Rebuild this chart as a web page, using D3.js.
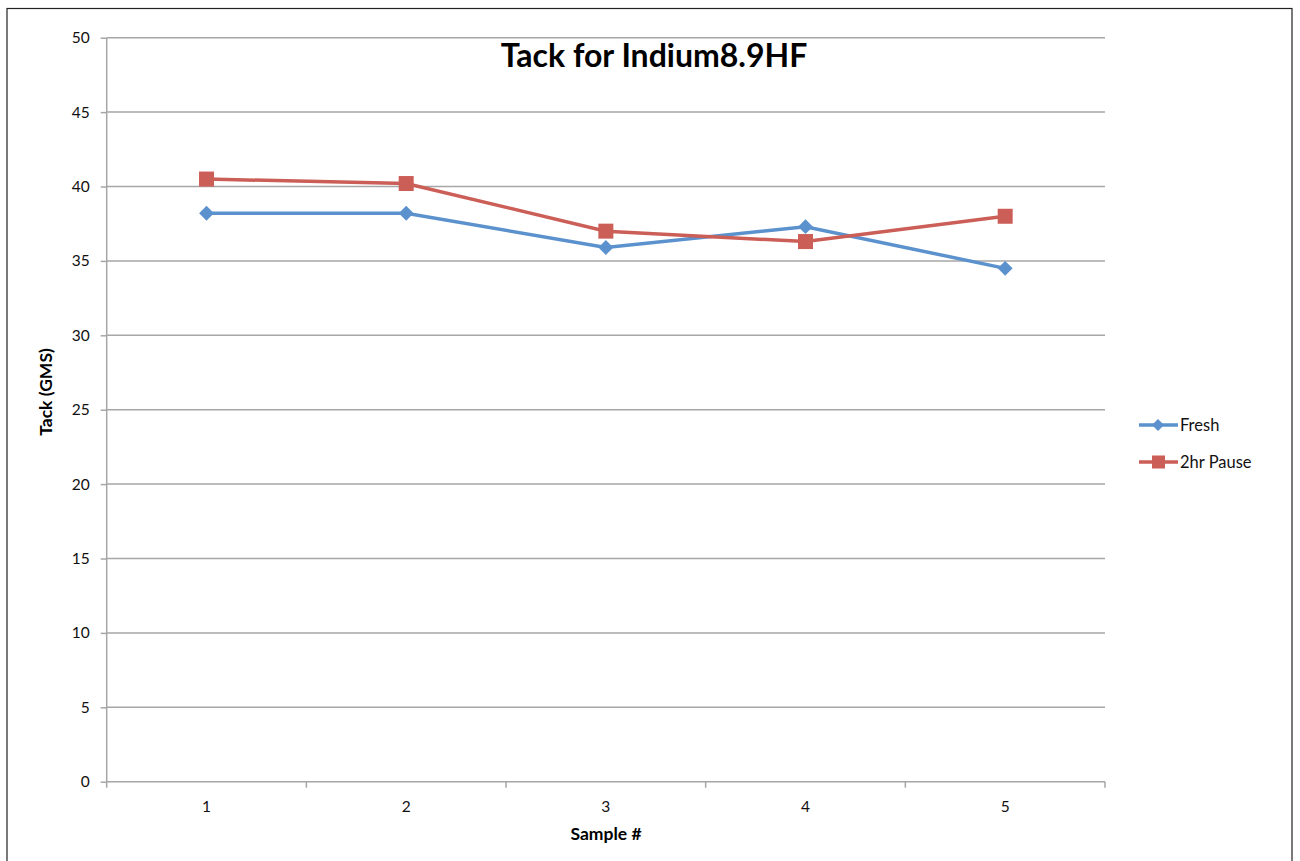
<!DOCTYPE html>
<html><head><meta charset="utf-8">
<script src="https://cdn.jsdelivr.net/npm/d3@7"></script>
<style>body{margin:0;background:#fff}svg{display:block}text{font-family:Lato,"Open Sans",sans-serif}</style>
</head><body><svg id="c" width="1300" height="861"></svg>
<script>
const categories = ["1","2","3","4","5"];
const fresh = [38.2, 38.2, 35.9, 37.3, 34.5];
const pause = [40.5, 40.2, 37.0, 36.3, 38.0];
const seriesNames = ["Fresh", "2hr Pause"];
const yTicks = [0,5,10,15,20,25,30,35,40,45,50];

const svg = d3.select("#c");
const blue = "#5b91cd", red = "#cc5e58", grid = "#a6a6a6";
svg.append("rect").attr("x",7).attr("y",8.5).attr("width",1285).attr("height",870)
  .attr("fill","none").attr("stroke","#222").attr("stroke-width",1.2);

const L=106.7, R=1105, T=37.7, B=781.7;
const x = d3.scaleBand().domain(categories).range([L,R]);
const y = d3.scaleLinear().domain([0,50]).range([B,T]);

// gridlines
svg.append("g").selectAll("line").data(yTicks.filter(d=>d>0)).join("line")
  .attr("x1",L).attr("x2",R).attr("y1",d=>y(d)).attr("y2",d=>y(d))
  .attr("stroke",grid).attr("stroke-width",1.5);

const ya = svg.append("g").attr("transform",`translate(${L},0)`)
  .call(d3.axisLeft(y).tickValues(yTicks).tickSize(6).tickPadding(11));
ya.select(".domain").attr("stroke",grid).attr("stroke-width",1.5).attr("d",`M0,${B}V${T}`);
ya.selectAll(".tick line").attr("stroke",grid).attr("stroke-width",1.5);
ya.selectAll(".tick text").attr("font-size",15.5).attr("fill","#111").attr("font-family","Lato,sans-serif");

const xa = svg.append("g").attr("transform",`translate(0,${B})`)
  .call(d3.axisBottom(x).tickSize(0).tickPadding(19));
xa.select(".domain").attr("stroke",grid).attr("stroke-width",1.5).attr("d",`M${L},0H${R}`);
xa.selectAll(".tick text").attr("font-size",15.5).attr("fill","#111").attr("font-family","Lato,sans-serif");
// band boundary ticks
const bounds = categories.map(c=>x(c)).concat([R]);
svg.append("g").selectAll("line").data(bounds).join("line")
  .attr("x1",d=>d).attr("x2",d=>d).attr("y1",B).attr("y2",B+6)
  .attr("stroke",grid).attr("stroke-width",1.5);

const cx = c => x(c)+x.bandwidth()/2;
const line = d3.line().x((d,i)=>cx(categories[i])).y(d=>y(d));
svg.append("path").datum(fresh).attr("d",line).attr("fill","none").attr("stroke",blue).attr("stroke-width",3.5);
svg.append("path").datum(pause).attr("d",line).attr("fill","none").attr("stroke",red).attr("stroke-width",3.5);

const diamond = d3.symbol().type(d3.symbolSquare).size(110);
svg.append("g").selectAll("path").data(fresh).join("path")
  .attr("d",diamond()).attr("fill",blue)
  .attr("transform",(d,i)=>`translate(${cx(categories[i])},${y(d)}) rotate(45)`);
svg.append("g").selectAll("rect").data(pause).join("rect")
  .attr("x",(d,i)=>cx(categories[i])-7.5).attr("y",d=>y(d)-7.5)
  .attr("width",15).attr("height",15).attr("fill",red);

svg.append("text").attr("x",654).attr("y",67).attr("text-anchor","middle")
  .attr("font-size",32).attr("font-weight","bold").attr("fill","#000").text("Tack for Indium8.9HF");
svg.append("text").attr("transform","translate(52,392) rotate(-90)").attr("text-anchor","middle")
  .attr("font-size",17.5).attr("font-weight","bold").attr("fill","#000").text("Tack (GMS)");
svg.append("text").attr("x",606).attr("y",840).attr("text-anchor","middle")
  .attr("font-size",17.5).attr("font-weight","bold").attr("fill","#000").text("Sample #");

// legend
const lg = svg.append("g");
const ly = [425, 462];
[blue, red].forEach((col,i)=>{
  lg.append("line").attr("x1",1139).attr("x2",1178).attr("y1",ly[i]).attr("y2",ly[i]).attr("stroke",col).attr("stroke-width",3.5);
  if(i===0) lg.append("path").attr("d",d3.symbol().type(d3.symbolSquare).size(72)()).attr("fill",col)
    .attr("transform",`translate(1158,${ly[i]}) rotate(45)`);
  else lg.append("rect").attr("x",1152).attr("y",ly[i]-6.5).attr("width",13).attr("height",13).attr("fill",col);
  lg.append("text").attr("x",1180).attr("y",ly[i]+6).attr("font-size",16.5).attr("fill","#111").text(seriesNames[i]);
});
</script></body></html>
